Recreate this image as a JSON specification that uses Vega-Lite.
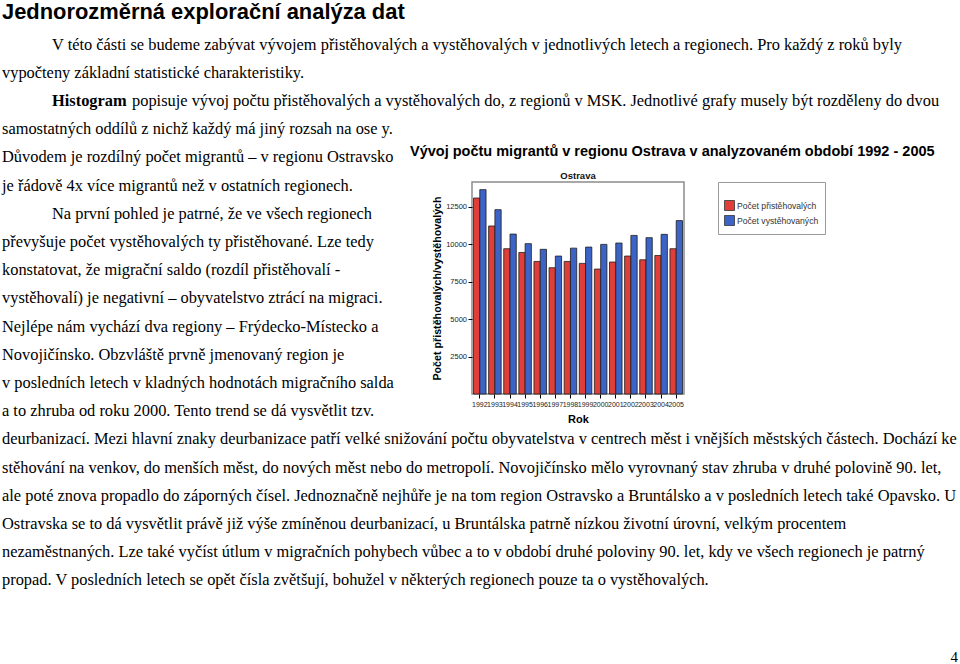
{
  "$schema": "https://vega.github.io/schema/vega-lite/v6.json",
  "autosize": {"type": "pad"},
  "padding": 0,
  "background": "white",
  "spacing": 0,
  "center": true,
  "bounds": "flush",
  "resolve": {
    "scale": {"x": "independent", "y": "independent", "color": "independent"},
    "legend": {"color": "independent"}
  },
  "config": {
    "font": "Liberation Sans",
    "view": {"stroke": "#8c8c8c", "strokeWidth": 1.5}
  },
  "hconcat": [
    {
      "width": 471.5,
      "height": 576,
      "view": {"stroke": null},
      "encoding": {
        "x": {"field": "odsazeni", "type": "quantitative", "scale": {"domain": [0, 1], "range": [2, 52], "nice": false, "zero": false}, "axis": null},
        "y": {"field": "radek", "type": "quantitative", "scale": {"domain": [-0.7553, 19.67], "reverse": true, "nice": false, "zero": false}, "axis": null},
        "text": {"field": "text"}
      },
      "layer": [
        {
          "data": {"values": [{"radek": 0, "odsazeni": 0, "text": "Jednorozměrná explorační analýza dat"}]},
          "mark": {"type": "text", "align": "left", "baseline": "alphabetic", "font": "Liberation Sans", "fontSize": 21.9, "fontWeight": "bold", "dy": -2, "color": "#000"}
        },
        {
          "data": {"values": [
            {"radek": 1, "odsazeni": 1, "text": "V této části se budeme zabývat vývojem přistěhovalých a vystěhovalých v jednotlivých letech a regionech. Pro každý z roků byly"},
            {"radek": 2, "odsazeni": 0, "text": "vypočteny základní statistické charakteristiky."},
            {"radek": 4, "odsazeni": 0, "text": "samostatných oddílů z nichž každý má jiný rozsah na ose y."},
            {"radek": 5, "odsazeni": 0, "text": "Důvodem je rozdílný počet migrantů – v regionu Ostravsko"},
            {"radek": 6, "odsazeni": 0, "text": "je řádově 4x více migrantů než  v ostatních regionech."},
            {"radek": 7, "odsazeni": 1, "text": "Na první pohled je patrné, že ve všech regionech"},
            {"radek": 8, "odsazeni": 0, "text": "převyšuje počet vystěhovalých ty přistěhované. Lze tedy"},
            {"radek": 9, "odsazeni": 0, "text": "konstatovat, že migrační saldo (rozdíl přistěhovalí -"},
            {"radek": 10, "odsazeni": 0, "text": "vystěhovalí) je negativní – obyvatelstvo ztrácí na migraci."},
            {"radek": 11, "odsazeni": 0, "text": "Nejlépe nám vychází dva regiony – Frýdecko-Místecko a"},
            {"radek": 12, "odsazeni": 0, "text": "Novojičínsko. Obzvláště prvně jmenovaný region je"},
            {"radek": 13, "odsazeni": 0, "text": "v posledních letech v kladných hodnotách migračního salda"},
            {"radek": 14, "odsazeni": 0, "text": "a to zhruba od roku 2000. Tento trend se dá vysvětlit tzv."},
            {"radek": 15, "odsazeni": 0, "text": "deurbanizací. Mezi hlavní znaky deurbanizace patří velké snižování počtu obyvatelstva v centrech měst i vnějších městských částech. Dochází ke"},
            {"radek": 16, "odsazeni": 0, "text": "stěhování na venkov, do menších měst, do nových měst nebo do metropolí. Novojičínsko mělo vyrovnaný stav zhruba v druhé polovině 90. let,"},
            {"radek": 17, "odsazeni": 0, "text": "ale poté znova propadlo do záporných čísel. Jednoznačně nejhůře je na tom region Ostravsko a Bruntálsko a v posledních letech také Opavsko. U"},
            {"radek": 18, "odsazeni": 0, "text": "Ostravska se to dá vysvětlit právě již výše zmíněnou deurbanizací, u Bruntálska patrně nízkou životní úrovní, velkým procentem"},
            {"radek": 19, "odsazeni": 0, "text": "nezaměstnaných. Lze také vyčíst útlum v migračních pohybech vůbec a to v období druhé poloviny 90. let, kdy ve všech regionech je patrný"},
            {"radek": 20, "odsazeni": 0, "text": "propad. V posledních letech se opět čísla zvětšují, bohužel v některých regionech pouze ta o vystěhovalých."}
          ]},
          "mark": {"type": "text", "align": "left", "baseline": "alphabetic", "font": "Liberation Serif", "fontSize": 16.4, "color": "#000"}
        },
        {
          "data": {"values": [{"radek": 3, "odsazeni": 1, "text": "Histogram"}]},
          "mark": {"type": "text", "align": "left", "baseline": "alphabetic", "font": "Liberation Serif", "fontSize": 16.4, "fontWeight": "bold", "color": "#000"}
        },
        {
          "data": {"values": [{"radek": 3, "odsazeni": 1, "text": "popisuje vývoj počtu přistěhovalých a vystěhovalých do, z regionů v MSK. Jednotlivé grafy musely být rozděleny do dvou"}]},
          "mark": {"type": "text", "align": "left", "baseline": "alphabetic", "font": "Liberation Serif", "fontSize": 16.4, "dx": 80, "color": "#000"}
        },
        {
          "data": {"values": [{"radek": 5, "odsazeni": 0, "text": "Vývoj počtu migrantů v regionu Ostrava v analyzovaném období 1992 - 2005"}]},
          "mark": {"type": "text", "align": "left", "baseline": "alphabetic", "font": "Liberation Sans", "fontSize": 14.5, "fontWeight": "bold", "dx": 408, "dy": -6.5, "color": "#000"}
        },
        {
          "data": {"values": [{"radek": 22, "odsazeni": 0, "text": "4"}]},
          "mark": {"type": "text", "align": "right", "baseline": "alphabetic", "font": "Liberation Serif", "fontSize": 15, "dx": 956, "dy": 20, "color": "#000"}
        }
      ]
    },
    {
      "width": 212,
      "height": 212,
      "title": {"text": "Ostrava", "fontSize": 9.5, "fontWeight": "bold", "font": "Liberation Sans", "offset": 1, "color": "#111", "anchor": "middle"},
      "data": {"values": [
        {"rok": "1992", "typ": "Počet přistěhovalých", "pocet": 13100},
        {"rok": "1992", "typ": "Počet vystěhovaných", "pocet": 13660},
        {"rok": "1993", "typ": "Počet přistěhovalých", "pocet": 11230},
        {"rok": "1993", "typ": "Počet vystěhovaných", "pocet": 12320},
        {"rok": "1994", "typ": "Počet přistěhovalých", "pocet": 9710},
        {"rok": "1994", "typ": "Počet vystěhovaných", "pocet": 10690},
        {"rok": "1995", "typ": "Počet přistěhovalých", "pocet": 9460},
        {"rok": "1995", "typ": "Počet vystěhovaných", "pocet": 10050},
        {"rok": "1996", "typ": "Počet přistěhovalých", "pocet": 8860},
        {"rok": "1996", "typ": "Počet vystěhovaných", "pocet": 9670},
        {"rok": "1997", "typ": "Počet přistěhovalých", "pocet": 8440},
        {"rok": "1997", "typ": "Počet vystěhovaných", "pocet": 9220},
        {"rok": "1998", "typ": "Počet přistěhovalých", "pocet": 8860},
        {"rok": "1998", "typ": "Počet vystěhovaných", "pocet": 9750},
        {"rok": "1999", "typ": "Počet přistěhovalých", "pocet": 8730},
        {"rok": "1999", "typ": "Počet vystěhovaných", "pocet": 9820},
        {"rok": "2000", "typ": "Počet přistěhovalých", "pocet": 8350},
        {"rok": "2000", "typ": "Počet vystěhovaných", "pocet": 10000},
        {"rok": "2001", "typ": "Počet přistěhovalých", "pocet": 8820},
        {"rok": "2001", "typ": "Počet vystěhovaných", "pocet": 10090},
        {"rok": "2002", "typ": "Počet přistěhovalých", "pocet": 9220},
        {"rok": "2002", "typ": "Počet vystěhovaných", "pocet": 10600},
        {"rok": "2003", "typ": "Počet přistěhovalých", "pocet": 8970},
        {"rok": "2003", "typ": "Počet vystěhovaných", "pocet": 10450},
        {"rok": "2004", "typ": "Počet přistěhovalých", "pocet": 9260},
        {"rok": "2004", "typ": "Počet vystěhovaných", "pocet": 10670},
        {"rok": "2005", "typ": "Počet přistěhovalých", "pocet": 9710},
        {"rok": "2005", "typ": "Počet vystěhovaných", "pocet": 11590}
      ]},
      "mark": {"type": "bar", "stroke": "#1e1e1e", "strokeWidth": 0.8},
      "encoding": {
        "x": {
          "field": "rok", "type": "ordinal",
          "scale": {"paddingInner": 0.17, "paddingOuter": 0.1},
          "axis": {"title": "Rok", "titleFontSize": 11, "titleFontWeight": "bold", "titleColor": "#000", "titlePadding": 6, "labelAngle": 0, "labelFontSize": 7, "labelOverlap": false, "labelPadding": 2, "labelColor": "#222", "tickSize": 4, "tickColor": "#000", "domain": false}
        },
        "xOffset": {"field": "typ", "type": "nominal", "sort": ["Počet přistěhovalých", "Počet vystěhovaných"], "scale": {"paddingInner": 0}},
        "y": {
          "field": "pocet", "type": "quantitative",
          "scale": {"domain": [0, 14170], "nice": false},
          "axis": {"title": "Počet přistěhovalých/vystěhovalých", "titleFontSize": 10.7, "titleFontWeight": "bold", "titleColor": "#000", "titlePadding": 3, "values": [2500, 5000, 7500, 10000, 12500], "format": "d", "labelFontSize": 7.5, "labelColor": "#222", "labelPadding": 1.5, "tickSize": 4, "tickColor": "#000", "grid": false, "domain": false}
        },
        "color": {
          "field": "typ", "type": "nominal",
          "sort": ["Počet přistěhovalých", "Počet vystěhovaných"],
          "scale": {"domain": ["Počet přistěhovalých", "Počet vystěhovaných"], "range": ["#df3f38", "#3c63c6"]},
          "legend": {"title": " ", "titleFontSize": 8, "titlePadding": 4, "orient": "right", "offset": 33.5, "labelFontSize": 8.6, "labelFont": "Liberation Sans", "labelColor": "#333", "labelOffset": 2, "symbolType": "square", "symbolSize": 100, "symbolStrokeColor": "#333", "symbolStrokeWidth": 0.8, "symbolOpacity": 1, "strokeColor": "#999", "fillColor": "#fff", "padding": 6, "rowPadding": 0, "cornerRadius": 0}
        }
      }
    }
  ]
}
